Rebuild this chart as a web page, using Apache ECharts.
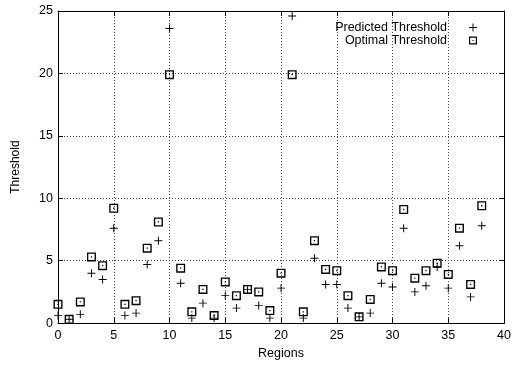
<!DOCTYPE html>
<html>
<head>
<meta charset="utf-8">
<script src="https://cdn.jsdelivr.net/npm/echarts@6/dist/echarts.min.js"></script>
<style>
  html, body { margin: 0; padding: 0; background: #fff; }
  #chart { width: 514px; height: 365px; }
</style>
</head>
<body>
<div id="chart"></div>
<script>
const regions = [];
for (let i = 0; i <= 38; i++) regions.push(i);

const predicted = [0.6, 0.3, 0.7, 4.0, 3.5, 7.6, 0.6, 0.8, 4.7, 6.6,
  23.6, 3.2, 0.4, 1.6, 0.4, 2.2, 1.2, 2.7, 1.4, 0.4,
  2.8, 24.6, 0.4, 5.2, 3.1, 3.1, 1.2, 0.5, 0.8, 3.2,
  2.9, 7.6, 2.5, 3.0, 4.5, 2.8, 6.2, 2.1, 7.8];

const optimal = [1.5, 0.3, 1.7, 5.3, 4.6, 9.2, 1.5, 1.8, 6.0, 8.1,
  19.9, 4.4, 0.9, 2.7, 0.6, 3.3, 2.2, 2.7, 2.5, 1.0,
  4.0, 19.9, 0.9, 6.6, 4.3, 4.2, 2.2, 0.5, 1.9, 4.5,
  4.2, 9.1, 3.6, 4.2, 4.8, 3.9, 7.6, 3.1, 9.4];

const plusIcon = 'path://M0,4.4H10V5.6H0Z M4.4,0H5.6V10H4.4Z';
const boxIcon = 'path://M0,0H10V10H0Z M1.5,1.5V8.5H8.5V1.5Z M4.3,4.3H5.7V5.7H4.3Z';

const chart = echarts.init(document.getElementById('chart'));
const font = 'Liberation Sans';

const gridLine = { show: true, lineStyle: { color: '#444', type: [1, 2], width: 1 } };
const frame = { show: true, onZero: false, lineStyle: { color: '#000', width: 1 } };
const ticks = { show: true, inside: true, length: 5, lineStyle: { color: '#000' } };

chart.setOption({
  animation: false,
  textStyle: { fontFamily: font },
  grid: { left: 58, right: 4, top: 11, bottom: 39 },
  legend: [
    {
      data: [{ name: 'Predicted Threshold', icon: plusIcon }],
      right: 32, top: 16, align: 'right', itemWidth: 8, itemHeight: 8,
      textStyle: { fontFamily: font, fontSize: 12.5, color: '#000', padding: [0, 17, 0, 0] }
    },
    {
      data: [{ name: 'Optimal Threshold', icon: boxIcon }],
      right: 32, top: 29, align: 'right', itemWidth: 8, itemHeight: 8,
      textStyle: { fontFamily: font, fontSize: 12.5, color: '#000', padding: [0, 17, 0, 0] }
    }
  ],
  xAxis: [
    {
      type: 'value', min: 0, max: 40, interval: 5,
      name: 'Regions', nameLocation: 'middle', nameGap: 23,
      nameTextStyle: { fontFamily: font, fontSize: 12.5, color: '#000' },
      axisLine: frame, axisTick: ticks, splitLine: gridLine,
      axisLabel: { color: '#000', fontSize: 12.5, margin: 6, fontFamily: font }
    },
    {
      type: 'value', min: 0, max: 40, interval: 5, position: 'top',
      axisLine: frame, axisTick: ticks, splitLine: { show: false },
      axisLabel: { show: false }
    }
  ],
  yAxis: [
    {
      type: 'value', min: 0, max: 25, interval: 5,
      name: 'Threshold', nameLocation: 'middle', nameGap: 36,
      nameTextStyle: { fontFamily: font, fontSize: 12, color: '#000' },
      axisLine: frame, axisTick: ticks, splitLine: gridLine,
      axisLabel: { color: '#000', fontSize: 12.5, margin: 5, fontFamily: font }
    },
    {
      type: 'value', min: 0, max: 25, interval: 5, position: 'right',
      axisLine: frame, axisTick: ticks, splitLine: { show: false },
      axisLabel: { show: false }
    }
  ],
  series: [
    {
      name: 'Predicted Threshold',
      type: 'scatter',
      symbol: plusIcon,
      symbolSize: 8,
      itemStyle: { color: '#000', opacity: 1 },
      data: regions.map((r, i) => [r, predicted[i]])
    },
    {
      name: 'Optimal Threshold',
      type: 'scatter',
      symbol: boxIcon,
      symbolSize: 9,
      itemStyle: { color: '#000', opacity: 1 },
      data: regions.map((r, i) => [r, optimal[i]])
    }
  ]
});
</script>
</body>
</html>
